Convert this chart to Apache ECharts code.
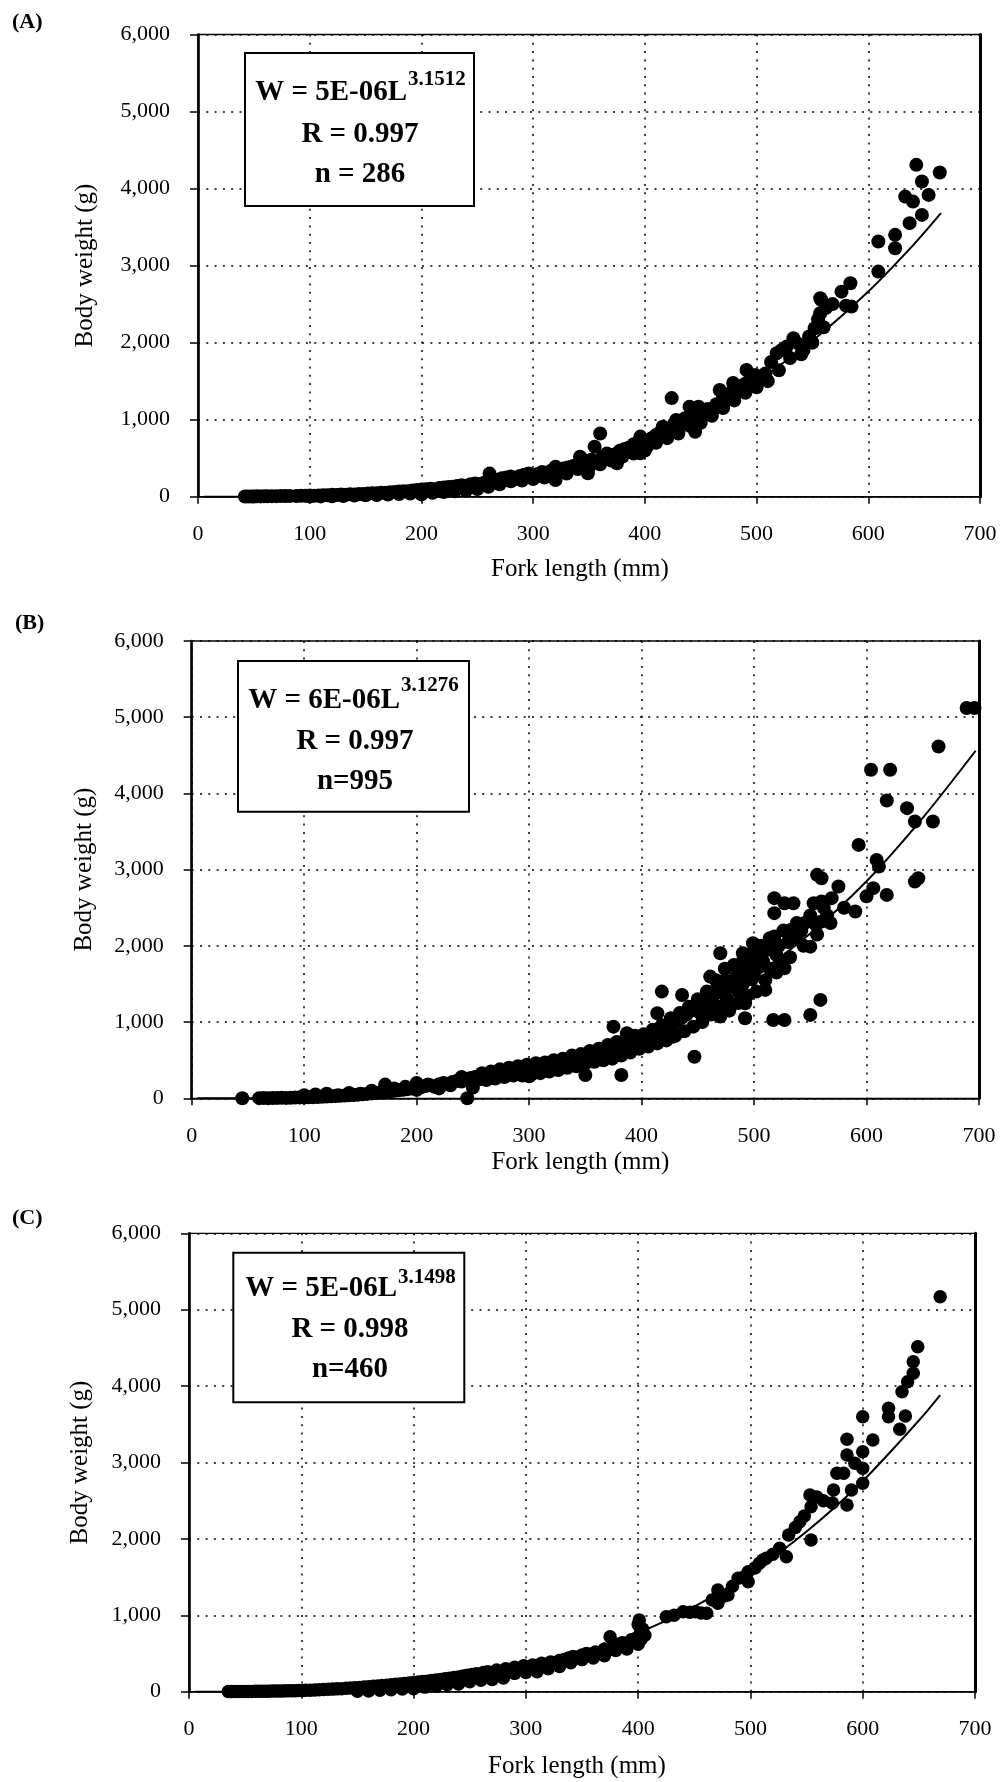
<!DOCTYPE html>
<html><head><meta charset="utf-8">
<script src="https://cdn.jsdelivr.net/npm/echarts@6/dist/echarts.min.js"></script>
<style>html,body{margin:0;padding:0;background:#fff}#c{width:1000px;height:1782px}</style>
</head><body><div id="c"></div>
<script>
const xTicks = ['0','100','200','300','400','500','600','700'];
const yTicks = ['0','1,000','2,000','3,000','4,000','5,000','6,000'];
const panelLabels = ['(A)','(B)','(C)'];
const xName = 'Fork length (mm)';
const yName = 'Body weight (g)';
const eqMain = ['W = 5E-06L','W = 6E-06L','W = 5E-06L'];
const eqExp = ['3.1512','3.1276','3.1498'];
const rText = ['R = 0.997','R = 0.997','R = 0.998'];
const nText = ['n = 286','n=995','n=460'];

const scatterA = [[42,3],[45,2],[48,4],[50,3],[53,5],[56,4],[59,5],[62,6],[66,5],[70,7],[74,8],[78,9],[82,8],[88,10],[92,12],[96,11],[100,14],[104,13],[108,16],[112,20],[116,18],[120,24],[124,22],[128,28],[132,26],[136,32],[140,30],[144,36],[148,34],[152,40],[156,46],[160,44],[164,52],[168,50],[172,58],[176,62],[180,66],[184,72],[188,70],[192,80],[196,86],[200,92],[204,96],[208,104],[212,98],[216,112],[220,118],[224,126],[228,130],[232,138],[236,148],[240,142],[244,160],[248,170],[252,164],[256,182],[261,300],[264,196],[268,220],[272,240],[276,250],[280,262],[284,230],[288,270],[292,285],[296,300],[300,255],[304,296],[308,320],[312,300],[316,336],[320,390],[320,216],[324,350],[328,370],[332,382],[336,400],[340,430],[342,520],[346,470],[349,303],[352,480],[355,650],[360,820],[362,520],[366,560],[370,540],[375,563],[375,433],[378,600],[382,620],[386,640],[390,680],[394,700],[396,780],[396,563],[400,720],[402,650],[406,760],[410,800],[414,840],[416,909],[420,880],[424,1280],[426,940],[428,996],[432,960],[436,1020],[440,1169],[442,1060],[445,844],[448,1169],[452,1100],[456,1140],[461,1126],[464,1200],[467,1386],[470,1300],[473,1256],[476,1340],[479,1476],[482,1420],[485,1386],[488,1450],[491,1645],[491,1476],[495,1520],[499,1580],[503,1515],[508,1600],[513,1750],[518,1862],[522,1900],[527,1950],[533,2057],[538,1980],[542,1905],[547,2080],[552,2187],[555,2300],[557,2382],[558,2554],[557,2577],[562,2450],[568,2500],[576,2662],[580,2480],[584,2771],[585,2468],[609,2922],[609,3312],[624,3226],[624,3399],[633,3896],[637,3551],[640,3831],[643,4308],[648,3658],[648,4091],[654,3918],[664,4208],
[100,2],[110,4],[120,6],[130,10],[140,14],[150,18],[160,22],[170,28],[180,34],[190,40],[200,30],[210,50],[220,60],[230,70],[240,80],[250,100],[260,130],[270,160],[280,200],[290,210],[300,230],[310,250],[320,280],[330,300],[340,360],[350,380],[360,420],[370,470],[380,520],[390,560],[400,600],[410,700],[420,760],[430,820],[440,920],[450,960],[460,1050],[470,1150],[480,1250],[490,1350],[500,1420],[510,1500],[520,1640],[530,1800],[540,1850],[550,2000],[560,2200]];

const scatterB = [[45,0],[60,2],[64,3],[68,2],[72,4],[76,5],[80,6],[84,5],[88,8],[92,9],[96,10],[100,12],[104,14],[108,15],[112,18],[116,20],[120,24],[124,26],[128,30],[132,32],[136,36],[140,40],[144,44],[148,48],[152,54],[156,58],[160,64],[164,70],[168,76],[172,180],[172,84],[176,90],[180,100],[184,106],[188,112],[192,120],[196,128],[200,135],[200,200],[204,145],[208,160],[212,170],[216,150],[220,185],[224,200],[228,190],[232,215],[236,230],[240,220],[244,250],[245,0],[248,265],[252,280],[256,250],[260,290],[264,300],[268,270],[272,310],[276,320],[280,300],[284,340],[288,350],[292,320],[296,370],[300,340],[300,290],[304,390],[308,360],[312,400],[316,380],[320,420],[324,440],[328,410],[332,460],[336,480],[340,450],[344,500],[348,520],[350,306],[352,490],[356,540],[360,560],[364,530],[368,580],[372,620],[375,940],[376,600],[380,660],[382,306],[384,700],[387,853],[388,680],[392,720],[396,760],[400,740],[401,765],[404,800],[408,840],[412,880],[414,1116],[416,820],[418,1400],[420,900],[424,940],[428,809],[428,980],[432,1020],[436,1356],[436,1060],[440,1100],[444,1150],[447,546],[448,1200],[452,1120],[452,1250],[456,1300],[458,1180],[461,1597],[462,1350],[464,1240],[466,1420],[468,1480],[470,1904],[470,1072],[472,1380],[474,1550],[476,1300],[478,1460],[481,1533],[484,1600],[486,1400],[488,1700],[490,1904],[490,1500],[492,1050],[492,1247],[494,1650],[496,1780],[498,1560],[499,2035],[500,1641],[502,1850],[504,1720],[506,1900],[508,1800],[510,1422],[512,1950],[514,1700],[517,1028],[518,2626],[518,2429],[518,2122],[520,1880],[522,2000],[524,1780],[527,2560],[527,1707],[527,1028],[530,2050],[533,2210],[535,2560],[538,2100],[542,2200],[545,2300],[550,1990],[550,1094],[553,2560],[555,2275],[556,2932],[559,1291],[560,2582],[560,2319],[560,2888],[565,2400],[569,2626],[575,2778],[580,2500],[590,2450],[593,3325],[600,2650],[604,4310],[606,2757],[609,3128],[611,3040],[618,3907],[618,2669],[621,4310],[636,3807],[643,3632],[643,2844],[646,2888],[659,3632],[664,4616],[689,5120],[696,5120],
[100,40],[110,50],[120,60],[130,40],[140,70],[150,60],[160,100],[170,90],[180,130],[190,150],[200,110],[210,180],[220,130],[230,170],[240,280],[250,140],[258,330],[262,240],[266,350],[270,260],[274,380],[278,280],[282,400],[286,300],[290,420],[294,300],[298,440],[302,310],[306,460],[310,330],[314,470],[318,350],[322,500],[326,370],[330,520],[334,400],[338,560],[342,420],[346,580],[350,460],[354,620],[358,480],[362,650],[366,500],[370,700],[374,520],[378,740],[382,560],[386,780],[390,600],[394,820],[398,650],[402,840],[406,680],[410,900],[414,720],[418,960],[422,760],[426,1050],[430,820],[434,1120],[438,880],[442,1200],[446,940],[450,1300],[454,1000],[458,1400],[462,1100],[466,1550],[470,1200],[474,1700],[478,1150],[482,1750],[486,1250],[490,1800],[494,1350],[498,1900],[502,1400],[506,2000],[510,1550],[514,2100],[520,1650],[526,2200],[532,1850],[538,2300],[544,2000],[550,2400],[556,2150],[562,2500],[568,2300]];

const scatterC = [[35,2],[38,1],[41,3],[44,2],[47,3],[50,4],[53,3],[56,4],[59,5],[62,5],[65,6],[68,6],[71,7],[74,8],[77,8],[80,9],[83,10],[86,11],[89,12],[92,12],[95,14],[98,15],[101,16],[104,18],[108,20],[112,22],[116,25],[120,28],[124,31],[128,34],[132,37],[136,40],[140,44],[144,48],[148,52],[152,56],[156,60],[160,65],[164,70],[168,74],[172,80],[176,85],[180,90],[184,96],[188,102],[192,108],[196,114],[200,120],[204,126],[208,132],[212,138],[216,146],[220,152],[224,160],[228,168],[232,176],[236,185],[240,194],[244,204],[248,214],[252,224],[256,234],[260,200],[262,250],[266,262],[270,230],[274,285],[278,260],[282,300],[286,275],[290,320],[294,290],[298,340],[302,310],[306,350],[310,330],[314,372],[318,350],[322,390],[326,380],[330,410],[334,420],[338,440],[342,460],[346,450],[350,480],[354,500],[358,490],[362,520],[366,510],[370,560],[375,720],[378,600],[382,620],[386,640],[390,633],[394,680],[398,700],[400,880],[401,938],[402,764],[402,677],[404,820],[406,740],[425,982],[432,1000],[440,1047],[446,1040],[451,1047],[456,1030],[461,1026],[466,1200],[471,1331],[471,1157],[476,1250],[480,1266],[484,1380],[489,1484],[494,1500],[498,1571],[498,1440],[504,1620],[508,1680],[511,1724],[514,1746],[520,1800],[526,1877],[532,1767],[534,2051],[540,2150],[544,2225],[548,2300],[554,1986],[554,2421],[559,2550],[553,2575],[565,2500],[573,2470],[574,2640],[577,2859],[583,2859],[586,2444],[586,3304],[586,3098],[590,2640],[593,2990],[600,3599],[600,3141],[600,2924],[600,2728],[609,3295],[623,3709],[623,3599],[633,3434],[635,3927],[638,3609],[640,4058],[645,4319],[645,4167],[649,4516],[669,5170],
[150,5],[160,10],[170,20],[180,25],[190,35],[200,40],[210,60],[220,70],[230,90],[240,100],[250,130],[260,150],[270,160],[280,180],[290,240],[300,250],[310,260],[320,300],[330,330],[340,380],[350,420],[360,440],[370,470],[380,540],[390,560],[400,620],[403,700]];

const fitA = [[5,0],[40,1],[100,9],[150,34],[200,84],[250,169],[300,300],[350,487],[400,742],[450,1075],[500,1500],[550,2025],[600,2663],[640,3262],[665,3680]];
const fitB = [[5,0],[45,1],[100,11],[150,37],[200,92],[250,184],[300,325],[350,527],[400,800],[450,1156],[500,1608],[550,2163],[600,2848],[650,3680],[697,4560]];
const fitC = [[5,0],[35,0],[100,10],[150,35],[200,87],[250,175],[300,311],[350,504],[400,768],[450,1115],[500,1552],[550,2096],[600,2758],[650,3550],[669,3883]];

const scatters = [scatterA, scatterB, scatterC];
const fits = [fitA, fitB, fitC];

const FONT = "'Liberation Serif','Times New Roman',serif";
const grids = [
  {left:198, top:34.5, width:782, height:462.2},
  {left:191.7, top:641, width:787.3, height:457.3},
  {left:189, top:1233.3, width:786, height:458.4}
];
const xNameGap = [60, 52, 62];
const xNamePad = [18, 10, 10];
const yNameGap = [100, 95, 96];
const dotSize = [14, 14, 13.5];

const boxes = [
  {rect:[245,53,229,153], l1:[407,92.5], sup:[408,79.5], l2:[360,135], l3:[360,175], lab:[12,23]},
  {rect:[238,661,231,150.7], l1:[400,701], sup:[401,686], l2:[355,742], l3:[355,782], lab:[15,624]},
  {rect:[233.3,1252.7,231,149.6], l1:[397,1289], sup:[398,1277.5], l2:[350,1330], l3:[350,1370], lab:[12,1219]}
];

const dotted = {color:'#000', width:1.5, type:[2,6.3]};
const option = {
  backgroundColor:'#fff',
  animation:false,
  textStyle:{fontFamily:FONT, color:'#000'},
  grid: grids.map(g => Object.assign({show:true, borderColor:'#000', borderWidth:1.3, backgroundColor:'transparent'}, g)),
  xAxis: grids.map((g,i) => ({
    type:'value', gridIndex:i, min:0, max:700, interval:100,
    name:xName, nameLocation:'middle', nameGap:xNameGap[i],
    nameTextStyle:{fontFamily:FONT, fontSize:25, color:'#000', padding:[0,xNamePad[i],0,0]},
    axisLine:{show:true, lineStyle:{color:'#000', width:1.6}},
    axisTick:{show:true, length:7, lineStyle:{color:'#000', width:1.5}},
    axisLabel:{show:true, margin:27, fontFamily:FONT, fontSize:22, color:'#000', showMinLabel:true, showMaxLabel:true,
      formatter: v => xTicks[Math.round(v/100)]},
    splitLine:{show:true, lineStyle:dotted}
  })),
  yAxis: grids.map((g,i) => ({
    type:'value', gridIndex:i, min:0, max:6000, interval:1000,
    name:yName, nameLocation:'middle', nameGap:yNameGap[i],
    nameTextStyle:{fontFamily:FONT, fontSize:25, color:'#000'},
    axisLine:{show:true, lineStyle:{color:'#000', width:2.6}},
    axisTick:{show:true, length:8, lineStyle:{color:'#000', width:1.5}},
    axisLabel:{show:true, margin:28, fontFamily:FONT, fontSize:22, color:'#000', showMinLabel:true, showMaxLabel:true,
      formatter: v => yTicks[Math.round(v/1000)]},
    splitLine:{show:true, lineStyle:dotted}
  })).concat(grids.map((g,i) => ({
    type:'value', gridIndex:i, min:0, max:6000, interval:1000, position:'right',
    axisLine:{show:true, lineStyle:{color:'#000', width:3}},
    axisTick:{show:false}, axisLabel:{show:false}, splitLine:{show:false}
  }))),
  series: scatters.map((d,i) => ({
    type:'scatter', xAxisIndex:i, yAxisIndex:i, data:d, symbol:'circle', symbolSize:dotSize[i],
    itemStyle:{color:'#000', opacity:1}, silent:true, z:3, large:false
  })).concat(fits.map((d,i) => ({
    type:'line', xAxisIndex:i, yAxisIndex:i, data:d, smooth:0.3, showSymbol:false, symbol:'none',
    lineStyle:{color:'#000', width:2}, silent:true, z:4
  }))),
  graphic: boxes.flatMap((b,i) => [
    {type:'text', left:b.lab[0], top:b.lab[1]-12, z:10, style:{text:panelLabels[i], font:"bold 22px "+FONT, fill:'#000'}},
    {type:'rect', shape:{x:b.rect[0], y:b.rect[1], width:b.rect[2], height:b.rect[3]}, z:10,
      style:{fill:'#fff', stroke:'#000', lineWidth:2}},
    {type:'text', x:b.l1[0], y:b.l1[1], z:11, style:{text:eqMain[i], font:"bold 29px "+FONT, fill:'#000', textAlign:'right', textVerticalAlign:'middle'}},
    {type:'text', x:b.sup[0], y:b.sup[1], z:11, style:{text:eqExp[i], font:"bold 21px "+FONT, fill:'#000', textAlign:'left', textVerticalAlign:'middle'}},
    {type:'text', x:b.l2[0], y:b.l2[1], z:11, style:{text:rText[i], font:"bold 29px "+FONT, fill:'#000', textAlign:'center', textVerticalAlign:'middle'}},
    {type:'text', x:b.l3[0], y:b.l3[1], z:11, style:{text:nText[i], font:"bold 29px "+FONT, fill:'#000', textAlign:'center', textVerticalAlign:'middle'}}
  ])
};
const chart = echarts.init(document.getElementById('c'), null, {renderer:'canvas'});
chart.setOption(option);
</script>
</body></html>
